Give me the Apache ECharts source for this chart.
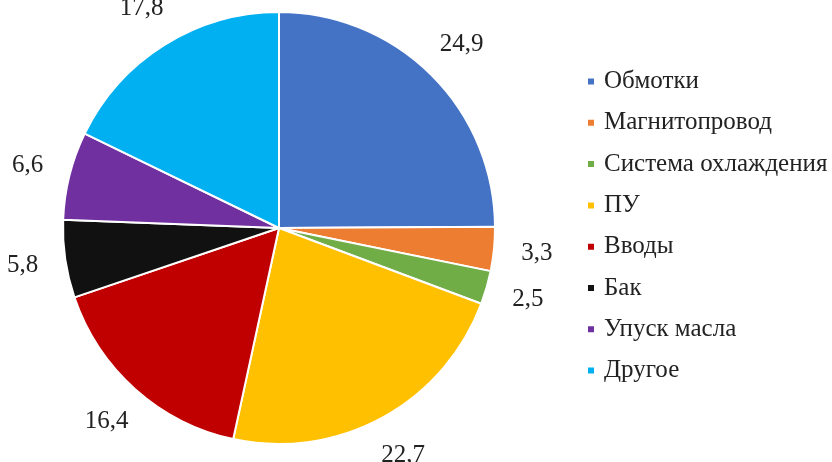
<!DOCTYPE html>
<html>
<head>
<meta charset="utf-8">
<script src="https://cdn.jsdelivr.net/npm/echarts@6/dist/echarts.min.js"></script>
<style>
  html, body { margin: 0; padding: 0; background: #fff; }
  #pieChart { width: 832px; height: 462px; }
</style>
</head>
<body>
<div id="pieChart"></div>
<script>
// доли отказов по узлам, %
const categories = ["Обмотки", "Магнитопровод", "Система охлаждения", "ПУ", "Вводы", "Бак", "Упуск масла", "Другое"];
const values = [24.9, 3.3, 2.5, 22.7, 16.4, 5.8, 6.6, 17.8];
const colors = ["#4472C4", "#ED7D31", "#70AD47", "#FFC000", "#C00000", "#111111", "#7030A0", "#00B0F0"];

const pieChart = echarts.init(document.getElementById("pieChart"));
const font = "'Liberation Serif', 'Times New Roman', serif";
const pieCenter = [279, 228];

const pieData = categories.map((name, i) => ({
  name: name,
  value: values[i],
  itemStyle: { color: colors[i] },
}));
// те же значения для прозрачного кольца с подписями
const labelData = categories.map((name, i) => ({ name: name, value: values[i] }));

const option = {
  animation: false,
  legend: {
    orient: "vertical",
    left: 586,
    top: 69,
    padding: 0,
    icon: "rect",
    itemWidth: 8,
    itemHeight: 8,
    itemGap: 16.3,
    textStyle: {
      fontFamily: font,
      fontSize: 25,
      lineHeight: 25,
      color: "#222",
      padding: [0, 0, 0, 4],
    },
    data: categories,
  },
  series: [
    {
      type: "pie",
      center: pieCenter,
      radius: 216,
      startAngle: 90,
      clockwise: true,
      itemStyle: {
        borderColor: "#fff",
        borderWidth: 2,
      },
      label: { show: false },
      labelLine: { show: false },
      emphasis: { disabled: true },
      data: pieData,
    },
    {
      // невидимое кольцо: подписи встают по середине сектора за краем круга
      type: "pie",
      center: pieCenter,
      radius: [216, 296],
      startAngle: 90,
      clockwise: true,
      silent: true,
      legendHoverLink: false,
      itemStyle: { color: "rgba(0,0,0,0)", borderWidth: 0 },
      label: {
        show: true,
        position: "inside",
        fontFamily: font,
        fontSize: 25,
        color: "#222",
        formatter: (p) => String(p.value).replace(".", ","),
      },
      labelLine: { show: false },
      emphasis: { disabled: true },
      data: labelData,
    },
  ],
};
pieChart.setOption(option);
</script>
</body>
</html>
